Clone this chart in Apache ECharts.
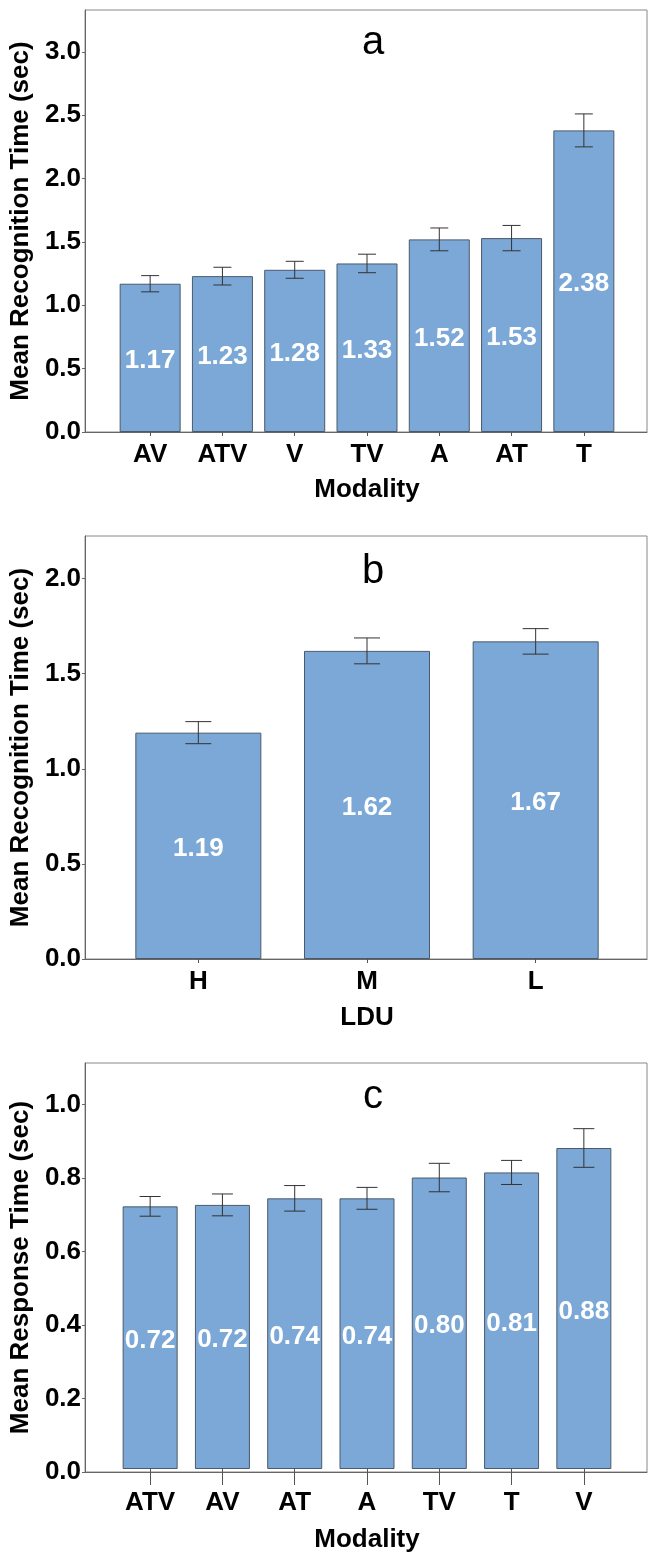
<!DOCTYPE html>
<html>
<head>
<meta charset="utf-8">
<script src="https://cdn.jsdelivr.net/npm/echarts@6/dist/echarts.min.js"></script>
<style>
  body { margin: 0; background: #fff; }
  #chart { width: 649px; height: 1554px; }
</style>
</head>
<body>
<div id="chart"></div>
<script>
// panel a - recognition time by modality
const catsA = ['AV', 'ATV', 'V', 'TV', 'A', 'AT', 'T']
const meanA = [1.17, 1.23, 1.28, 1.33, 1.52, 1.53, 2.38]
const errA = [0.064, 0.07, 0.067, 0.073, 0.09, 0.1, 0.13]
const ticksA = [0, 0.5, 1.0, 1.5, 2.0, 2.5, 3.0]

// panel b - recognition time by LDU
const catsB = ['H', 'M', 'L']
const meanB = [1.19, 1.62, 1.67]
const errB = [0.058, 0.068, 0.067]
const ticksB = [0, 0.5, 1.0, 1.5, 2.0]

// panel c - response time by modality
const catsC = ['ATV', 'AV', 'AT', 'A', 'TV', 'T', 'V']
const meanC = [0.72, 0.724, 0.742, 0.742, 0.799, 0.813, 0.88]
const errC = [0.027, 0.03, 0.035, 0.03, 0.039, 0.033, 0.053]
const ticksC = [0, 0.2, 0.4, 0.6, 0.8, 1.0]

const font = 'Liberation Sans, Arial, sans-serif'
const barColor = '#7ba8d6'
const fs = 26

var mychart = echarts.init(document.getElementById('chart'))

const panels = [
    { title: 'a', top: 10, height: 422, max: 3.33, cats: catsA, mean: meanA, err: errA, ticks: ticksA,
      yName: 'Mean Recognition Time (sec)', xName: 'Modality', barWidth: 61, cap: 18,
      tickLen: 4, labelMargin: 10, xNameGap: 45, titleTop: 18 },
    { title: 'b', top: 536, height: 423, max: 2.224, cats: catsB, mean: meanB, err: errB, ticks: ticksB,
      yName: 'Mean Recognition Time (sec)', xName: 'LDU', barWidth: 126, cap: 26,
      tickLen: 4, labelMargin: 10, xNameGap: 46, titleTop: 547 },
    { title: 'c', top: 1063, height: 409, max: 1.113, cats: catsC, mean: meanC, err: errC, ticks: ticksC,
      yName: 'Mean Response Time (sec)', xName: 'Modality', barWidth: 55, cap: 21,
      tickLen: 16, labelMargin: 21, xNameGap: 58, titleTop: 1072 }
]

let grid = [], xAxis = [], yAxis = [], series = [], title = []

panels.forEach((p, i) => {
    const frame = i * 2
    const inner = i * 2 + 1
    // outer frame with the y axis
    grid.push({ left: 85, top: p.top, width: 562, height: p.height, show: true,
        borderColor: '#888', borderWidth: 1, backgroundColor: '#fff' })
    // inner grid holds the bars (categories are inset from the frame)
    grid.push({ left: 114, top: p.top, width: 506, height: p.height })

    xAxis.push({ type: 'value', gridIndex: frame, min: 0, max: 1,
        axisLine: { show: true, lineStyle: { color: '#666' } },
        axisTick: { show: false }, axisLabel: { show: false }, splitLine: { show: false } })
    xAxis.push({ type: 'category', gridIndex: inner, data: p.cats,
        axisLine: { show: false },
        axisTick: { show: true, alignWithLabel: true, length: p.tickLen, lineStyle: { color: '#555' } },
        axisLabel: { margin: p.labelMargin, fontSize: fs, fontWeight: 'bold', color: '#000', fontFamily: font },
        name: p.xName, nameLocation: 'middle', nameGap: p.xNameGap,
        nameTextStyle: { fontSize: fs, fontWeight: 'bold', color: '#000', fontFamily: font } })

    yAxis.push({ type: 'value', gridIndex: frame, min: 0, max: p.max,
        axisLine: { show: true, lineStyle: { color: '#666' } },
        axisTick: { show: true, length: 3, customValues: p.ticks, lineStyle: { color: '#666' } },
        axisLabel: { margin: 4, fontSize: fs, fontWeight: 'bold', color: '#000', fontFamily: font,
            customValues: p.ticks, formatter: v => v.toFixed(1) },
        splitLine: { show: false },
        name: p.yName, nameLocation: 'middle', nameGap: 42,
        nameTextStyle: { fontSize: fs, fontWeight: 'bold', color: '#000', fontFamily: font } })
    yAxis.push({ type: 'value', gridIndex: inner, min: 0, max: p.max, show: false })

    series.push({
        type: 'bar', xAxisIndex: inner, yAxisIndex: inner, data: p.mean, barWidth: p.barWidth,
        itemStyle: { color: barColor, borderColor: '#4a5a6a', borderWidth: 1 },
        label: { show: true, position: 'inside', offset: [0, 3], color: '#fff', fontSize: fs,
            fontWeight: 'bold', fontFamily: font, formatter: d => d.value.toFixed(2) }
    })
    series.push({
        type: 'custom', xAxisIndex: inner, yAxisIndex: inner, z: 5,
        data: p.mean.map((m, k) => [k, m, p.err[k]]),
        renderItem: (params, api) => {
            const x = api.value(0), m = api.value(1), e = api.value(2)
            const hi = api.coord([x, m + e])
            const lo = api.coord([x, m - e])
            const hw = p.cap / 2
            const style = { stroke: '#333', lineWidth: 1 }
            return {
                type: 'group',
                children: [
                    { type: 'line', shape: { x1: hi[0], y1: hi[1], x2: lo[0], y2: lo[1] }, style },
                    { type: 'line', shape: { x1: hi[0] - hw, y1: hi[1], x2: hi[0] + hw, y2: hi[1] }, style },
                    { type: 'line', shape: { x1: lo[0] - hw, y1: lo[1], x2: lo[0] + hw, y2: lo[1] }, style }
                ]
            }
        }
    })

    title.push({ text: p.title, left: 368, top: p.titleTop, textAlign: 'center',
        textStyle: { fontSize: 40, fontWeight: 'normal', color: '#000', fontFamily: font } })
})

mychart.setOption({ animation: false, title, grid, xAxis, yAxis, series })
</script>
</body>
</html>
